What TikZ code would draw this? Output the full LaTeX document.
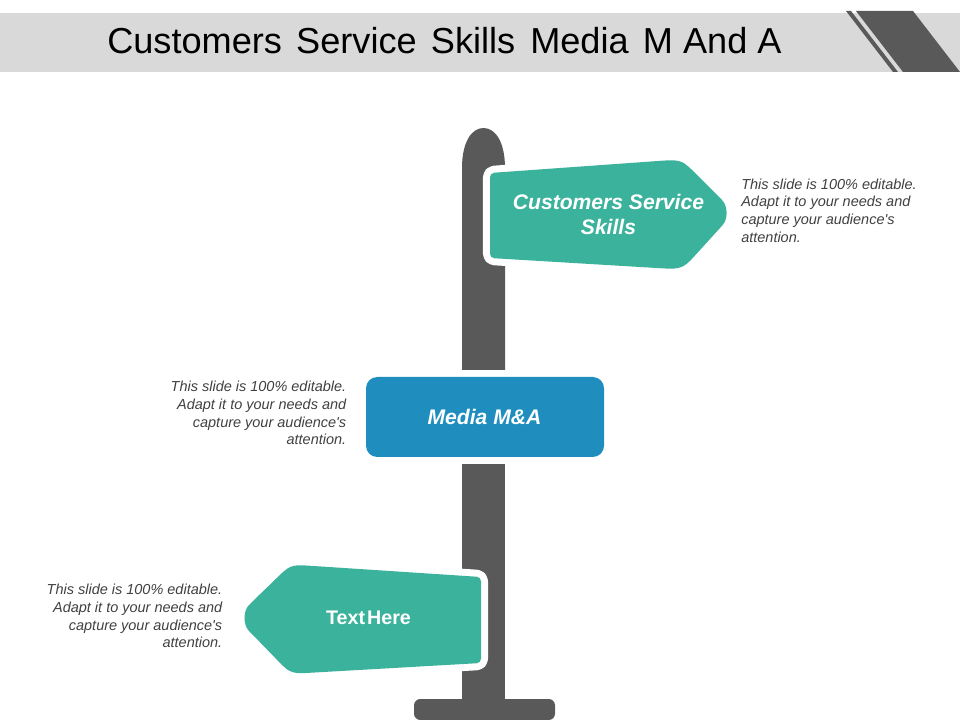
\documentclass[tikz,border=0pt]{standalone}
\usepackage{fontspec}
\setmainfont{Liberation Sans}
\usepackage{xcolor}
\usetikzlibrary{positioning}
\definecolor{signteal}{HTML}{3BB29C}
\definecolor{signblue}{HTML}{1F8EBE}
\definecolor{postgray}{HTML}{595959}
\definecolor{bargray}{HTML}{D9D9D9}
\definecolor{notegray}{HTML}{404040}

\begin{document}
\begin{tikzpicture}[
    x=0.025cm, y=-0.025cm,
    post/.style={fill=postgray, draw=none},
    tealsign/.style={fill=signteal, rounded corners=3pt, preaction={draw=white, line width=10pt, line join=round}},
    signtext/.style={font=\fontsize{15}{17.8}\selectfont\bfseries\itshape, text=white, align=center},
    note/.style={font=\fontsize{10.3}{12.6}\selectfont\itshape, text=notegray, inner sep=0pt},
]
\useasboundingbox (0,0) rectangle (960,720);

% Title bar
\fill[bargray] (0,13) rectangle (960,72);
\fill[post] (856,11) -- (913,11) -- (960,72) -- (903,72) -- cycle;
\fill[post] (846,11) -- (851,11) -- (898,72) -- (893,72) -- cycle;
\node[font=\fontsize{25.7}{30}\selectfont, anchor=west, inner sep=0pt] (title) at (107,41) {Customers\hspace{3pt} Service\hspace{3pt} Skills\hspace{3.5pt} Media\hspace{3pt} M And A};

% Post
\fill[post] (462,370) -- (462,168) .. controls (462,143) and (471,128) .. (483.5,128)
    .. controls (496,128) and (505,143) .. (505,168) -- (505,370) -- cycle;
\fill[post] (462,464) rectangle (505,705);
\fill[post, rounded corners=4.5pt] (414,699) rectangle (555,720);

% Signs
\path[tealsign] (490,173) -- (665,160.5) .. controls (675,160) and (681,161) .. (688,166) -- (719,197)
    .. controls (728,206) and (728,219) .. (720,228) -- (690,261) .. controls (682,268) and (675,269) .. (665,268.5) -- (490,258) -- cycle;
\fill[signblue, rounded corners=8pt] (366,377) rectangle (604,457);
\path[tealsign] (481,577) -- (306,565.5) .. controls (296,565) and (291,566) .. (284,571) -- (252,602)
    .. controls (243,611) and (243,625) .. (252,634) -- (283,666) .. controls (290,672) and (296,673.5) .. (306,673) -- (481,663) -- cycle;

% Sign labels
\node[signtext] (skills) at (608.5,214) {Customers Service\\Skills};
\node[signtext] (media) at (484.5,417) {Media M\&A};
\node[signtext, font=\fontsize{14}{16}\selectfont\bfseries] (texthere) at (368.5,618) {Text\hspace{-2.5pt} Here};

% Notes
\node[note, align=left, anchor=west] (noteskills) at (741,210.5) {This slide is 100\% editable.\\Adapt it to your needs and\\capture your audience\textquotesingle s\\attention.};
\node[note, align=right, anchor=east] (notemedia) at (346.5,413) {This slide is 100\% editable.\\Adapt it to your needs and\\capture your audience\textquotesingle s\\attention.};
\node[note, align=right, anchor=east] (notetext) at (222.5,616) {This slide is 100\% editable.\\Adapt it to your needs and\\capture your audience\textquotesingle s\\attention.};

\end{tikzpicture}
\end{document}
